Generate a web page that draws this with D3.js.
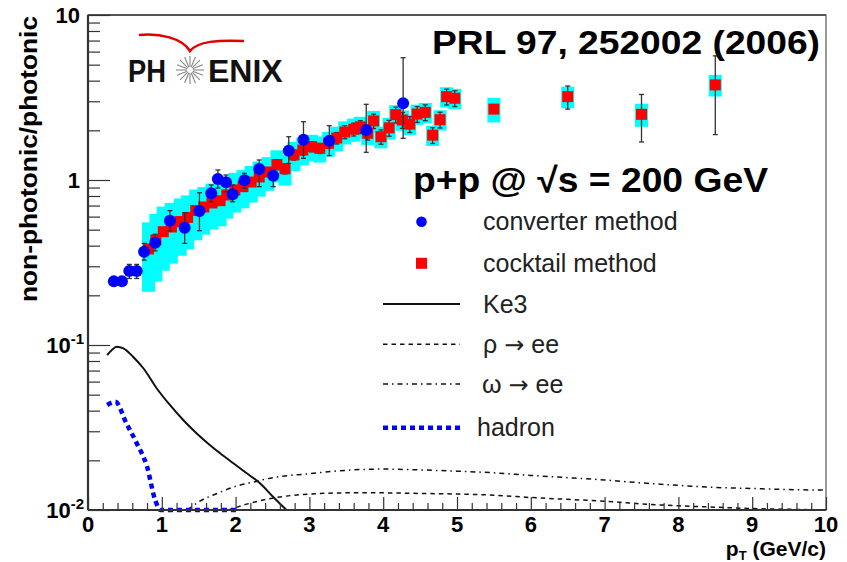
<!DOCTYPE html>
<html><head><meta charset="utf-8">
<script src="https://cdn.jsdelivr.net/npm/d3@7"></script>
<style>body{margin:0;background:#fff}text{font-family:"Liberation Sans",Arial,Helvetica,sans-serif}</style>
</head><body><svg id="c" width="847" height="562"></svg>
<script>
// ---------------- data ----------------
const convX  = [0.35,0.46,0.56,0.66,0.76,0.91,1.11,1.31,1.51,1.67,1.76,1.87,1.96,2.12,2.32,2.51,2.72,2.92,3.27,3.77,4.27];
const convY  = [0.243,0.243,0.281,0.281,0.367,0.417,0.566,0.514,0.649,0.830,1.015,0.968,0.819,0.996,1.166,1.062,1.505,1.755,1.730,2.01,2.92];
const convLo = [0.231,0.231,0.253,0.253,0.327,0.372,0.491,0.413,0.493,0.738,0.894,0.849,0.738,0.891,0.911,0.911,1.261,1.353,1.404,1.472,1.789];
const convHi = [0.255,0.255,0.308,0.308,0.413,0.469,0.652,0.634,0.837,0.933,1.150,1.072,0.933,1.098,1.322,1.150,1.829,2.256,2.134,2.876,5.51];

const cockX = [0.82,0.92,1.02,1.13,1.25,1.35,1.46,1.57,1.68,1.79,1.88,1.99,2.10,2.21,2.32,2.44,2.56,2.67,2.79,2.91,3.03,3.14,3.26,3.37,3.48,3.60,3.69,3.79,3.87,3.97,4.08,4.17,4.26,4.36,4.46,4.57,4.67,4.77,4.86,4.97,5.5,6.5,7.5,8.5];
const cockY = [0.382,0.433,0.486,0.519,0.560,0.593,0.653,0.686,0.726,0.749,0.811,0.870,0.911,0.972,1.043,1.118,1.24,1.17,1.418,1.520,1.592,1.556,1.669,1.797,1.954,2.03,2.10,1.92,2.28,1.83,2.07,2.49,2.31,2.18,2.51,2.57,1.87,2.32,3.20,3.13,2.69,3.20,2.50,3.77];
const cockSys = [0.45,0.44,0.42,0.40,0.38,0.36,0.34,0.32,0.31,0.30,0.28,0.27,0.26,0.25,0.24,0.23,0.22,0.21,0.20,0.19,0.18,0.18,0.17,0.17,0.16,0.16,0.15,0.15,0.15,0.15,0.15,0.14,0.14,0.14,0.14,0.14,0.14,0.14,0.14,0.14,0.17,0.15,0.16,0.15];
const cockStat = [0.04,0.04,0.04,0.04,0.04,0.04,0.05,0.05,0.05,0.05,0.05,0.05,0.05,0.05,0.05,0.06,0.07,0.07,0.07,0.07,0.07,0.07,0.07,0.08,0.09,0.09,0.09,0.09,0.10,0.10,0.11,0.11,0.11,0.11,0.11,0.11,0.11,0.11,0.11,0.11,0.04,0.16,0.32,0.50];

const ke3X = [0.26,0.32,0.39,0.48,0.61,0.75,0.93,1.11,1.29,1.47,1.65,1.79,1.97,2.15,2.33,2.51,2.69];
const ke3Y = [0.0869,0.093,0.0977,0.0955,0.0849,0.0723,0.0547,0.0433,0.0351,0.0292,0.0248,0.0221,0.0192,0.0167,0.01453,0.0120,0.0100];

const hadX = [0.26,0.37,0.52,0.66,0.80,0.91,0.98,1.2,1.4,1.6,1.8,2.04];
const hadY = [0.0433,0.0453,0.0335,0.0254,0.0183,0.0115,0.0100,0.0100,0.0100,0.0100,0.0100,0.0100];

const rhoX = [1.9,2.2,2.5,2.9,3.5,4.0,4.5,5.0,5.5,6.0,6.5,7.0,7.5,8.0,8.5,9.0,9.5,10];
const rhoY = [0.0100,0.0110,0.0118,0.0124,0.0127,0.0127,0.0126,0.0125,0.0123,0.0119,0.0116,0.0113,0.0109,0.0106,0.0104,0.0102,0.0101,0.0100];

const omX = [1.35,1.5,1.75,2.0,2.25,2.5,3.0,3.5,4.0,4.5,5.0,5.5,6.0,6.5,7.0,7.5,8.0,8.5,9.0,9.5,10];
const omY = [0.0100,0.0112,0.0126,0.0139,0.0148,0.0157,0.0166,0.0174,0.0177,0.0175,0.0172,0.0168,0.0162,0.0157,0.0152,0.0146,0.0141,0.0137,0.0135,0.0133,0.0132];

const xTicks = [0,1,2,3,4,5,6,7,8,9,10];
const yMajor = [0.01,0.1,1,10];
const yTickLabels = [["10","-2"],["10","-1"],["1",""],["10",""]];
const legendLabels = [["converter method"],["cocktail method"],["Ke3"],["\u03c1 ","\u2192"," ee"],["\u03c9 ","\u2192"," ee"],["hadron"]];

// ---------------- chart ----------------
const svg = d3.select("#c");
svg.append("rect").attr("width",847).attr("height",562).attr("fill","#fff");
const L=88, R=826, T=15, B=510;
const x = d3.scaleLinear().domain([0,10]).range([L,R]);
const y = d3.scaleLog().domain([0.01,10]).range([B,T]);

svg.append("clipPath").attr("id","clip").append("rect").attr("x",L).attr("y",T).attr("width",R-L).attr("height",B-T+3);
const plot = svg.append("g").attr("clip-path","url(#clip)");

// systematic (cyan) boxes
plot.selectAll("rect.sys").data(cockX).join("rect").attr("class","sys")
  .attr("x",(d)=>x(d)-6.5).attr("width",13)
  .attr("y",(d,i)=>y(cockY[i]*(1+cockSys[i])))
  .attr("height",(d,i)=>y(cockY[i]*(1-cockSys[i]))-y(cockY[i]*(1+cockSys[i])))
  .attr("fill","#00ffff");

// stat bars
const barCol="#333";
function errBar(g, xs, lo, hi){
  g.append("line").attr("x1",xs).attr("x2",xs).attr("y1",lo).attr("y2",hi).attr("stroke",barCol).attr("stroke-width",1.3);
  g.append("line").attr("x1",xs-2.5).attr("x2",xs+2.5).attr("y1",lo).attr("y2",lo).attr("stroke",barCol).attr("stroke-width",1.3);
  g.append("line").attr("x1",xs-2.5).attr("x2",xs+2.5).attr("y1",hi).attr("y2",hi).attr("stroke",barCol).attr("stroke-width",1.3);
}
const gCS = plot.append("g");
cockX.forEach((d,i)=>errBar(gCS, x(d), y(cockY[i]*(1-cockStat[i])), y(cockY[i]*(1+cockStat[i]))));
plot.selectAll("rect.ck").data(cockX).join("rect").attr("class","ck")
  .attr("x",d=>x(d)-5.5).attr("y",(d,i)=>y(cockY[i])-5.5).attr("width",11).attr("height",11).attr("fill","#ff0000");

const gCV = plot.append("g");
convX.forEach((d,i)=>errBar(gCV, x(d), y(convLo[i]), y(convHi[i])));
plot.selectAll("circle.cv").data(convX).join("circle").attr("class","cv")
  .attr("cx",d=>x(d)).attr("cy",(d,i)=>y(convY[i])).attr("r",6).attr("fill","#0000ff");

// curves
const line = d3.line().x(d=>x(d[0])).y(d=>y(d[1])).curve(d3.curveMonotoneX);
plot.append("path").datum(ke3X.map((d,i)=>[d,ke3Y[i]])).attr("d",line).attr("fill","none").attr("stroke","#111").attr("stroke-width",2);
plot.append("path").datum(rhoX.map((d,i)=>[d,rhoY[i]])).attr("d",line).attr("fill","none").attr("stroke","#111").attr("stroke-width",1.5).attr("stroke-dasharray","4.5,4");
plot.append("path").datum(omX.map((d,i)=>[d,omY[i]])).attr("d",line).attr("fill","none").attr("stroke","#111").attr("stroke-width",1.5).attr("stroke-dasharray","5,4,1.5,4");
plot.append("path").datum(hadX.map((d,i)=>[d,hadY[i]])).attr("d",line).attr("fill","none").attr("stroke","#0000ff").attr("stroke-width",4.5).attr("stroke-dasharray","5,4");

// frame
svg.append("rect").attr("x",L).attr("y",T).attr("width",R-L).attr("height",B-T).attr("fill","none").attr("stroke","#555").attr("stroke-width",1.2);
svg.append("line").attr("x1",L).attr("x2",L).attr("y1",T).attr("y2",B).attr("stroke","#333").attr("stroke-width",2.2);
svg.append("line").attr("x1",L).attr("x2",R).attr("y1",B).attr("y2",B).attr("stroke","#333").attr("stroke-width",2.2);
svg.append("line").attr("x1",L).attr("x2",R).attr("y1",T).attr("y2",T).attr("stroke","#555").attr("stroke-width",2);

// x axis ticks
const xAx = d3.axisBottom(x).tickValues(d3.range(0,10.001,0.2)).tickSize(-7).tickFormat("");
const gx = svg.append("g").attr("transform",`translate(0,${B})`).call(xAx);
gx.select(".domain").remove();
gx.selectAll(".tick line").attr("stroke","#333").attr("stroke-width",1.2)
  .attr("y2",d=>Math.abs(d-Math.round(d))<1e-6?-13:-7);
svg.selectAll("text.xl").data(xTicks).join("text").attr("class","xl")
  .attr("x",d=>x(d)).attr("y",532).attr("text-anchor","middle")
  .attr("font-size",22).attr("font-weight","bold").attr("fill","#000").text(d=>d);

// y axis ticks
const yMinor=[];
[0.01,0.1,1].forEach(dec=>{for(let k=1;k<=9;k++) yMinor.push(dec*k);});
yMinor.push(10);
const yAx = d3.axisLeft(y).tickValues(yMinor).tickSize(-12).tickFormat("");
const gy = svg.append("g").attr("transform",`translate(${L},0)`).call(yAx);
gy.select(".domain").remove();
gy.selectAll(".tick line").attr("stroke","#333").attr("stroke-width",1.2)
  .attr("x2",d=>yMajor.some(m=>Math.abs(m-d)/m<1e-6)?22:12);
yMajor.forEach((v,i)=>{
  const [base,sup]=yTickLabels[i];
  const t=svg.append("text").attr("y",y(v)+8).attr("text-anchor","end").attr("font-weight","bold").attr("fill","#000");
  if(sup){
    t.attr("x",84);
    t.append("tspan").attr("font-size",22).text(base);
    t.append("tspan").attr("font-size",15).attr("dy",-9).text(sup);
  } else {
    t.attr("x",80).attr("font-size",22).text(base);
  }
});

// axis titles
svg.append("text").attr("transform","translate(36.5,302) rotate(-90)").attr("font-size",24).attr("font-weight","bold")
  .attr("textLength",286).attr("lengthAdjust","spacingAndGlyphs").text("non-photonic/photonic");
const xt = svg.append("text").attr("x",826).attr("y",556).attr("text-anchor","end").attr("font-size",21).attr("font-weight","bold");
xt.append("tspan").text("p");
xt.append("tspan").attr("font-size",13).attr("dy",4).text("T");
xt.append("tspan").attr("dy",-4).text(" (GeV/c)");

// header texts
svg.append("text").attr("x",432).attr("y",54).attr("font-size",34).attr("font-weight","bold")
  .attr("textLength",388).attr("lengthAdjust","spacingAndGlyphs").text("PRL 97, 252002 (2006)");
svg.append("text").attr("x",413).attr("y",192).attr("font-size",35).attr("font-weight","bold")
  .attr("textLength",355).attr("lengthAdjust","spacingAndGlyphs").text("p+p @ \u221as = 200 GeV");

// legend
const legY=[221.7,263.3,304,344.3,384,427.7];
const legTx=[483,483,483,483,482,477];
legendLabels.forEach((parts,i)=>{
  const t=svg.append("text").attr("x",legTx[i]).attr("y",legY[i]+8.5).attr("font-size",25).attr("fill","#222");
  parts.forEach(p=>{
    const s=t.append("tspan").text(p);
    if(p==="\u2192") s.attr("font-family","DejaVu Sans").attr("font-size",24);
  });
});
svg.append("circle").attr("cx",421.5).attr("cy",legY[0]).attr("r",5.3).attr("fill","#0000ff");
svg.append("rect").attr("x",416).attr("y",legY[1]-5.5).attr("width",11).attr("height",11).attr("fill","#ff0000");
svg.append("line").attr("x1",383).attr("x2",460).attr("y1",legY[2]).attr("y2",legY[2]).attr("stroke","#111").attr("stroke-width",2);
svg.append("line").attr("x1",383).attr("x2",460).attr("y1",legY[3]).attr("y2",legY[3]).attr("stroke","#111").attr("stroke-width",1.5).attr("stroke-dasharray","4.5,4");
svg.append("line").attr("x1",383).attr("x2",460).attr("y1",legY[4]).attr("y2",legY[4]).attr("stroke","#111").attr("stroke-width",1.5).attr("stroke-dasharray","5,4,1.5,4");
svg.append("line").attr("x1",383).attr("x2",460).attr("y1",legY[5]).attr("y2",legY[5]).attr("stroke","#0000ff").attr("stroke-width",4.5).attr("stroke-dasharray","5,4");

// PHENIX logo
const logo = svg.append("g");
logo.append("path").attr("d","M139,35 C160,33 182,38 190,51 C198,41 218,40 244,41").attr("fill","none").attr("stroke","#e00000").attr("stroke-width",2.5);
logo.append("text").attr("x",128).attr("y",82).attr("font-size",32).attr("font-weight","bold").attr("fill","#111")
  .attr("textLength",38).attr("lengthAdjust","spacingAndGlyphs").text("PH");
logo.append("text").attr("x",208).attr("y",82).attr("font-size",32).attr("font-weight","bold").attr("fill","#111").text("ENIX");
for(let k=0;k<16;k++){
  const a=k*Math.PI/8;
  logo.append("line").attr("x1",190+3*Math.cos(a)).attr("y1",70+3*Math.sin(a)).attr("x2",190+14*Math.cos(a)).attr("y2",70+14*Math.sin(a))
    .attr("stroke","#888").attr("stroke-width",1.1);
}
</script></body></html>
